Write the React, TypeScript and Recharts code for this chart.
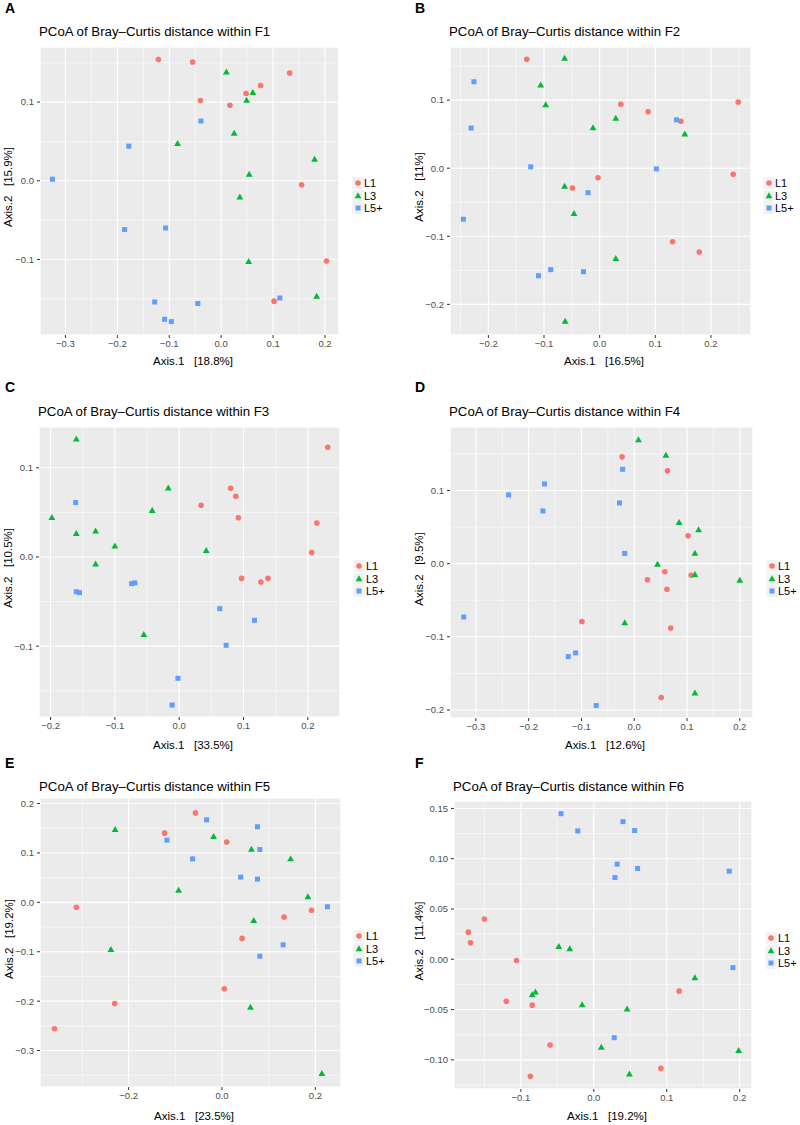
import React from "react";
import { ScatterChart, Scatter, XAxis, YAxis, CartesianGrid } from "recharts";

type Pt = { x: number; y: number };

// F1
const f1L1: Pt[] = [
  { x: -0.121, y: 0.154 }, { x: -0.055, y: 0.151 }, { x: -0.04, y: 0.102 }, { x: 0.017, y: 0.096 },
  { x: 0.048, y: 0.111 }, { x: 0.076, y: 0.121 }, { x: 0.132, y: 0.137 }, { x: 0.155, y: -0.005 },
  { x: 0.203, y: -0.102 }, { x: 0.102, y: -0.153 },
];
const f1L3: Pt[] = [
  { x: 0.01, y: 0.138 }, { x: 0.061, y: 0.112 }, { x: 0.049, y: 0.102 }, { x: 0.025, y: 0.06 },
  { x: -0.084, y: 0.047 }, { x: 0.18, y: 0.027 }, { x: 0.054, y: 0.008 }, { x: 0.036, y: -0.021 },
  { x: 0.053, y: -0.103 }, { x: 0.184, y: -0.147 },
];
const f1L5: Pt[] = [
  { x: -0.039, y: 0.076 }, { x: -0.178, y: 0.044 }, { x: -0.325, y: 0.002 }, { x: -0.186, y: -0.062 },
  { x: -0.107, y: -0.06 }, { x: -0.128, y: -0.154 }, { x: -0.045, y: -0.156 }, { x: -0.109, y: -0.176 },
  { x: -0.096, y: -0.179 }, { x: 0.113, y: -0.149 },
];

// F2
const f2L1: Pt[] = [
  { x: -0.131, y: 0.16 }, { x: 0.038, y: 0.094 }, { x: 0.087, y: 0.083 }, { x: 0.146, y: 0.069 },
  { x: 0.249, y: 0.097 }, { x: 0.24, y: -0.009 }, { x: -0.003, y: -0.014 }, { x: -0.049, y: -0.029 },
  { x: 0.131, y: -0.108 }, { x: 0.179, y: -0.123 },
];
const f2L3: Pt[] = [
  { x: -0.063, y: 0.161 }, { x: -0.106, y: 0.122 }, { x: -0.097, y: 0.093 }, { x: 0.029, y: 0.073 },
  { x: -0.012, y: 0.059 }, { x: 0.153, y: 0.05 }, { x: -0.063, y: -0.027 }, { x: -0.046, y: -0.067 },
  { x: 0.029, y: -0.133 }, { x: -0.062, y: -0.225 },
];
const f2L5: Pt[] = [
  { x: -0.226, y: 0.127 }, { x: -0.231, y: 0.059 }, { x: -0.124, y: 0.002 }, { x: 0.102, y: -0.001 },
  { x: 0.138, y: 0.071 }, { x: -0.021, y: -0.036 }, { x: -0.245, y: -0.075 }, { x: -0.11, y: -0.158 },
  { x: -0.088, y: -0.149 }, { x: -0.029, y: -0.152 },
];

// F3
const f3L1: Pt[] = [
  { x: 0.231, y: 0.123 }, { x: 0.08, y: 0.077 }, { x: 0.088, y: 0.068 }, { x: 0.034, y: 0.058 },
  { x: 0.092, y: 0.044 }, { x: 0.214, y: 0.038 }, { x: 0.206, y: 0.005 }, { x: 0.097, y: -0.024 },
  { x: 0.127, y: -0.028 }, { x: 0.138, y: -0.024 },
];
const f3L3: Pt[] = [
  { x: -0.16, y: 0.132 }, { x: -0.017, y: 0.077 }, { x: -0.042, y: 0.052 }, { x: -0.198, y: 0.044 },
  { x: -0.16, y: 0.026 }, { x: -0.13, y: 0.029 }, { x: -0.1, y: 0.012 }, { x: 0.042, y: 0.007 },
  { x: -0.13, y: -0.008 }, { x: -0.055, y: -0.087 },
];
const f3L5: Pt[] = [
  { x: -0.161, y: 0.061 }, { x: -0.074, y: -0.03 }, { x: -0.069, y: -0.029 }, { x: -0.16, y: -0.039 },
  { x: -0.155, y: -0.04 }, { x: 0.063, y: -0.058 }, { x: 0.117, y: -0.071 }, { x: 0.073, y: -0.099 },
  { x: -0.002, y: -0.136 }, { x: -0.011, y: -0.166 },
];

// F4
const f4L1: Pt[] = [
  { x: -0.023, y: 0.146 }, { x: 0.063, y: 0.127 }, { x: 0.102, y: 0.038 }, { x: 0.058, y: -0.011 },
  { x: 0.025, y: -0.022 }, { x: 0.108, y: -0.016 }, { x: 0.062, y: -0.035 }, { x: -0.099, y: -0.079 },
  { x: 0.069, y: -0.088 }, { x: 0.051, y: -0.183 },
];
const f4L3: Pt[] = [
  { x: 0.008, y: 0.169 }, { x: 0.06, y: 0.148 }, { x: 0.085, y: 0.056 }, { x: 0.122, y: 0.046 },
  { x: 0.115, y: 0.014 }, { x: 0.044, y: -0.001 }, { x: 0.115, y: -0.015 }, { x: 0.2, y: -0.023 },
  { x: -0.018, y: -0.081 }, { x: 0.115, y: -0.177 },
];
const f4L5: Pt[] = [
  { x: -0.022, y: 0.129 }, { x: -0.17, y: 0.109 }, { x: -0.238, y: 0.094 }, { x: -0.173, y: 0.072 },
  { x: -0.028, y: 0.083 }, { x: -0.018, y: 0.014 }, { x: -0.323, y: -0.073 }, { x: -0.125, y: -0.127 },
  { x: -0.111, y: -0.122 }, { x: -0.072, y: -0.194 },
];

// F5
const f5L1: Pt[] = [
  { x: -0.057, y: 0.181 }, { x: -0.123, y: 0.14 }, { x: 0.01, y: 0.122 }, { x: -0.312, y: -0.01 },
  { x: 0.192, y: -0.016 }, { x: 0.133, y: -0.03 }, { x: 0.043, y: -0.073 }, { x: 0.005, y: -0.175 },
  { x: -0.23, y: -0.205 }, { x: -0.359, y: -0.256 },
];
const f5L3: Pt[] = [
  { x: -0.229, y: 0.147 }, { x: -0.018, y: 0.133 }, { x: 0.063, y: 0.107 }, { x: 0.147, y: 0.088 },
  { x: -0.093, y: 0.024 }, { x: 0.184, y: 0.011 }, { x: 0.068, y: -0.037 }, { x: -0.238, y: -0.096 },
  { x: 0.061, y: -0.213 }, { x: 0.214, y: -0.347 },
];
const f5L5: Pt[] = [
  { x: -0.033, y: 0.167 }, { x: 0.076, y: 0.153 }, { x: -0.118, y: 0.126 }, { x: 0.081, y: 0.107 },
  { x: -0.063, y: 0.088 }, { x: 0.04, y: 0.051 }, { x: 0.076, y: 0.047 }, { x: 0.226, y: -0.009 },
  { x: 0.131, y: -0.086 }, { x: 0.081, y: -0.109 },
];

// F6
const f6L1: Pt[] = [
  { x: -0.15, y: 0.04 }, { x: -0.172, y: 0.027 }, { x: -0.169, y: 0.0165 }, { x: -0.106, y: -0.0013 },
  { x: -0.12, y: -0.0417 }, { x: -0.0845, y: -0.0456 }, { x: -0.06, y: -0.0853 }, { x: -0.087, y: -0.1164 },
  { x: 0.117, y: -0.0317 }, { x: 0.092, y: -0.1085 },
];
const f6L3: Pt[] = [
  { x: -0.048, y: 0.0126 }, { x: -0.033, y: 0.0103 }, { x: -0.0845, y: -0.0354 }, { x: -0.08, y: -0.0327 },
  { x: -0.016, y: -0.0453 }, { x: 0.0456, y: -0.0496 }, { x: 0.0103, y: -0.0876 }, { x: 0.0488, y: -0.1144 },
  { x: 0.1386, y: -0.0185 }, { x: 0.1986, y: -0.0909 },
];
const f6L5: Pt[] = [
  { x: -0.045, y: 0.1448 }, { x: -0.022, y: 0.1276 }, { x: 0.04, y: 0.1369 }, { x: 0.056, y: 0.128 },
  { x: 0.032, y: 0.0946 }, { x: 0.06, y: 0.0903 }, { x: 0.029, y: 0.0813 }, { x: 0.1857, y: 0.0876 },
  { x: 0.1907, y: -0.0083 }, { x: 0.028, y: -0.078 },
];

const groups = ["L1", "L3", "L5+"];
const COLORS = ["#F8766D", "#00BA38", "#619CFF"];
const FONT = '"Liberation Sans", Arial, Helvetica, sans-serif';

const panels = [
  {
    letter: "A", site: "F1", cell: [0, 0], plot: { x: 40, y: 47, w: 299, h: 288 },
    xDomain: [-0.349, 0.227], yDomain: [-0.196, 0.17],
    xTicks: [-0.3, -0.2, -0.1, 0, 0.1, 0.2], yTicks: [-0.1, 0, 0.1],
    xMinor: [-0.25, -0.15, -0.05, 0.05, 0.15], yMinor: [-0.15, -0.05, 0.05, 0.15],
    xPct: "18.8%", yPct: "15.9%", series: [f1L1, f1L3, f1L5], dec: 1,
    letterPos: [5, 8], titleY: 32, xLab: [193, 361], yLabX: 8, legend: [358, 364, 183],
  },
  {
    letter: "B", site: "F2", cell: [400, 0], plot: { x: 50, y: 47, w: 301, h: 288 },
    xDomain: [-0.269, 0.272], yDomain: [-0.245, 0.178],
    xTicks: [-0.2, -0.1, 0, 0.1, 0.2], yTicks: [-0.2, -0.1, 0, 0.1],
    xMinor: [-0.25, -0.15, -0.05, 0.05, 0.15, 0.25], yMinor: [-0.15, -0.05, 0.05, 0.15],
    xPct: "16.5%", yPct: "11%", series: [f2L1, f2L3, f2L5], dec: 1,
    letterPos: [15, 8], titleY: 32, xLab: [204, 361], yLabX: 19, legend: [369, 375, 183],
  },
  {
    letter: "C", site: "F3", cell: [0, 370], plot: { x: 39, y: 57, w: 301, h: 290 },
    xDomain: [-0.218, 0.25], yDomain: [-0.1794, 0.1457],
    xTicks: [-0.2, -0.1, 0, 0.1, 0.2], yTicks: [-0.1, 0, 0.1],
    xMinor: [-0.15, -0.05, 0.05, 0.15], yMinor: [-0.15, -0.05, 0.05],
    xPct: "33.5%", yPct: "10.5%", series: [f3L1, f3L3, f3L5], dec: 1,
    letterPos: [5, 17], titleY: 42, xLab: [193, 375], yLabX: 8, legend: [359, 366, 196],
  },
  {
    letter: "D", site: "F4", cell: [400, 370], plot: { x: 50, y: 57, w: 303, h: 291 },
    xDomain: [-0.349, 0.225], yDomain: [-0.211, 0.1868],
    xTicks: [-0.3, -0.2, -0.1, 0, 0.1, 0.2], yTicks: [-0.2, -0.1, 0, 0.1],
    xMinor: [-0.25, -0.15, -0.05, 0.05, 0.15], yMinor: [-0.15, -0.05, 0.05, 0.15],
    xPct: "12.6%", yPct: "9.5%", series: [f4L1, f4L3, f4L5], dec: 1,
    letterPos: [15, 17], titleY: 42, xLab: [205, 375], yLabX: 19, legend: [372, 378, 196],
  },
  {
    letter: "E", site: "F5", cell: [0, 740], plot: { x: 40, y: 58, w: 301, h: 289 },
    xDomain: [-0.39, 0.255], yDomain: [-0.3738, 0.2112],
    xTicks: [-0.2, 0, 0.2], yTicks: [-0.3, -0.2, -0.1, 0, 0.1, 0.2],
    xMinor: [-0.3, -0.1, 0.1], yMinor: [-0.35, -0.25, -0.15, -0.05, 0.05, 0.15],
    xPct: "23.5%", yPct: "19.2%", series: [f5L1, f5L3, f5L5], dec: 1,
    letterPos: [5, 23], titleY: 47, xLab: [194, 376], yLabX: 9, legend: [359, 366, 196],
  },
  {
    letter: "F", site: "F6", cell: [400, 740], plot: { x: 54, y: 61, w: 298, h: 288 },
    xDomain: [-0.1917, 0.2169], yDomain: [-0.129, 0.1574],
    xTicks: [-0.1, 0, 0.1, 0.2], yTicks: [-0.1, -0.05, 0, 0.05, 0.1, 0.15],
    xMinor: [-0.15, -0.05, 0.05, 0.15], yMinor: [-0.125, -0.075, -0.025, 0.025, 0.075, 0.125],
    xPct: "19.2%", yPct: "11.4%", series: [f6L1, f6L3, f6L5], dec: 2,
    letterPos: [15, 23], titleY: 47, xLab: [207, 376], yLabX: 19, legend: [371, 378, 198],
  },
];

function Marker({ kind, cx, cy, color }: { kind: number; cx: number; cy: number; color: string }) {
  if (kind === 0) return <circle cx={cx} cy={cy} r={2.8} fill={color} />;
  if (kind === 1)
    return <polygon points={`${cx},${cy - 3.7} ${cx - 3.4},${cy + 2.3} ${cx + 3.4},${cy + 2.3}`} fill={color} />;
  return <rect x={cx - 2.5} y={cy - 2.5} width={5} height={5} fill={color} />;
}

const fmt = (d: number) => (v: number) => {
  const s = Math.abs(v) < 1e-9 ? (0).toFixed(d) : v.toFixed(d);
  return s.replace("-", "\u2212");
};

function Panel({ p }: { p: (typeof panels)[number] }) {
  const { plot } = p;
  const tickStyle = { fontSize: 9.5, fill: "#4D4D4D", fontFamily: FONT };
  const text: React.CSSProperties = { position: "absolute", fontFamily: FONT, whiteSpace: "pre", lineHeight: "16px", height: 16 };
  return (
    <div style={{ position: "absolute", left: p.cell[0], top: p.cell[1], width: 400, height: 385 }}>
      <div style={{ ...text, left: p.letterPos[0], top: p.letterPos[1] - 8, fontSize: 14, fontWeight: "bold" }}>{p.letter}</div>
      <div style={{ ...text, left: plot.x - 1, top: p.titleY - 8, fontSize: 13.25, color: "#000" }}>
        {`PCoA of Bray\u2013Curtis distance within ${p.site}`}
      </div>
      <div style={{ position: "absolute", left: plot.x - 40, top: plot.y - 8 }}>
        <ScatterChart width={plot.w + 48} height={plot.h + 38} margin={{ top: 8, right: 8, bottom: 0, left: 0 }}>
          <XAxis xAxisId="m" type="number" dataKey="x" domain={p.xDomain} ticks={p.xMinor} hide allowDataOverflow />
          <YAxis yAxisId="m" type="number" dataKey="y" domain={p.yDomain} ticks={p.yMinor} hide allowDataOverflow />
          <CartesianGrid xAxisId="m" yAxisId="m" stroke="#FFFFFF" strokeWidth={0.55} fill="#EBEBEB" fillOpacity={1} />
          <CartesianGrid stroke="#FFFFFF" strokeWidth={1.1} />
          <XAxis
            type="number" dataKey="x" domain={p.xDomain} ticks={p.xTicks} interval={0} allowDataOverflow
            height={30} axisLine={false} tickSize={3} tickMargin={2}
            tickLine={{ stroke: "#333333", strokeWidth: 1 }} tick={tickStyle} tickFormatter={fmt(1)}
          />
          <YAxis
            type="number" dataKey="y" domain={p.yDomain} ticks={p.yTicks} interval={0} allowDataOverflow
            width={40} axisLine={false} tickSize={3} tickMargin={3}
            tickLine={{ stroke: "#333333", strokeWidth: 1 }} tick={tickStyle} tickFormatter={fmt(p.dec)}
          />
          {p.series.map((data, i) => (
            <Scatter
              key={groups[i]}
              data={data}
              isAnimationActive={false}
              fill={COLORS[i]}
              shape={(s: any) => <Marker kind={i} cx={s.cx} cy={s.cy} color={COLORS[i]} />}
            />
          ))}
        </ScatterChart>
      </div>
      <div style={{ ...text, left: p.xLab[0] - 100, top: p.xLab[1] - 8, width: 200, textAlign: "center", fontSize: 11.5 }}>
        {`Axis.1   [${p.xPct}]`}
      </div>
      <div
        style={{
          ...text, left: p.yLabX - 100, top: plot.y + plot.h / 2 - 4 - 8, width: 200, textAlign: "center",
          fontSize: 11.5, transform: "rotate(-90deg)",
        }}
      >
        {`Axis.2   [${p.yPct}]`}
      </div>
      {groups.map((g, i) => {
        const cy = p.legend[2] + i * 12.5;
        return (
          <React.Fragment key={g}>
            <svg style={{ position: "absolute", left: p.legend[0] - 6, top: cy - 6 }} width={12} height={12}>
              <rect x={0.5} y={0} width={11} height={12} fill="#F2F2F2" />
              <Marker kind={i} cx={6} cy={6} color={COLORS[i]} />
            </svg>
            <div style={{ ...text, left: p.legend[1], top: cy - 8, fontSize: 11 }}>{g}</div>
          </React.Fragment>
        );
      })}
    </div>
  );
}

export default function App() {
  return (
    <div style={{ position: "absolute", left: 0, top: 0, width: 800, height: 1125, background: "#fff" }}>
      {panels.map((p) => (
        <Panel key={p.letter} p={p} />
      ))}
    </div>
  );
}
